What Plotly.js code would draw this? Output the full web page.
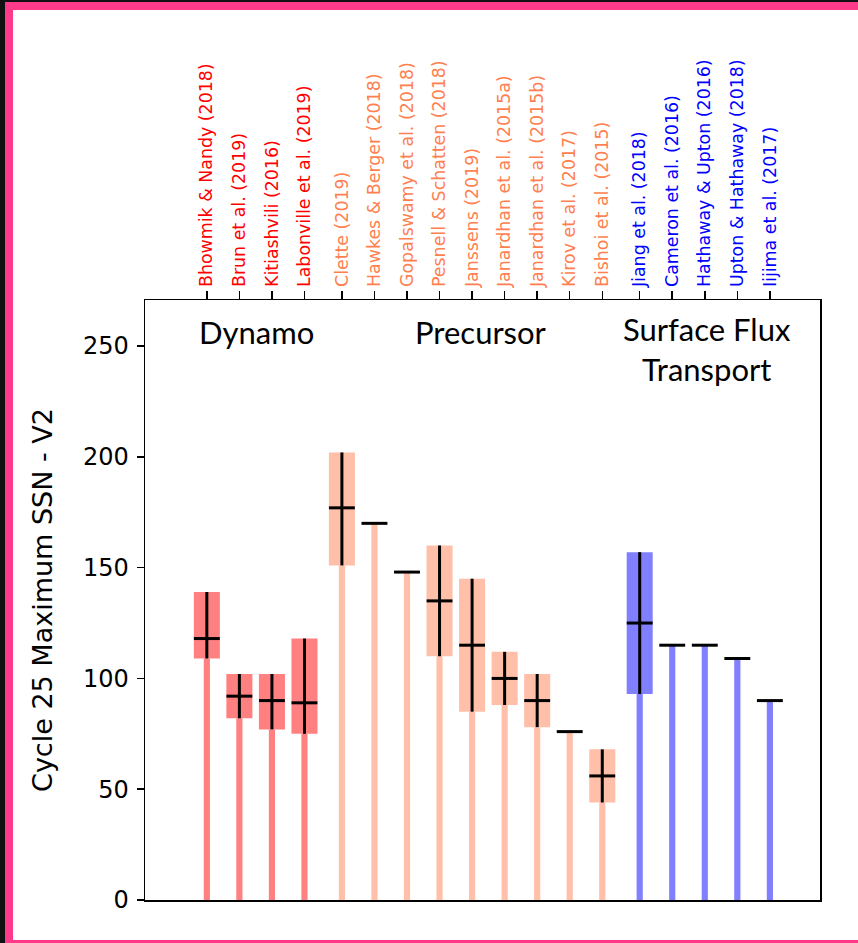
<!DOCTYPE html>
<html>
<head>
<meta charset="utf-8">
<script src="https://cdn.plot.ly/plotly-3.0.1.min.js"></script>
<style>
  html, body { margin: 0; padding: 0; background: #ffffff; width: 858px; height: 943px; overflow: hidden; }
  .fr { position: absolute; }
  #chart { position: absolute; left: 0; top: 0; width: 858px; height: 943px; }
</style>
</head>
<body>
<div class="fr" style="left:0;top:0;width:858px;height:2px;background:#111;"></div>
<div class="fr" style="left:0;top:0;width:5px;height:943px;background:#111;"></div>
<div class="fr" style="left:5px;top:2px;width:853px;height:8px;background:#ff3a8a;"></div>
<div class="fr" style="left:5px;top:2px;width:8px;height:941px;background:#ff3a8a;"></div>
<div class="fr" style="left:5px;top:940px;width:853px;height:3px;background:#ff3a8a;"></div>
<div id="chart"></div>
<script>
// ---- data ----
const models = [
  "Bhowmik & Nandy (2018)", "Brun et al. (2019)", "Kitiashvili (2016)", "Labonville et al. (2019)",
  "Clette (2019)", "Hawkes & Berger (2018)", "Gopalswamy et al. (2018)", "Pesnell & Schatten (2018)",
  "Janssens (2019)", "Janardhan et al. (2015a)", "Janardhan et al. (2015b)", "Kirov et al. (2017)",
  "Bishoi et al. (2015)",
  "Jiang et al. (2018)", "Cameron et al. (2016)", "Hathaway & Upton (2016)", "Upton & Hathaway (2018)",
  "Iijima et al. (2017)"
];
const groups = [
  "Dynamo", "Dynamo", "Dynamo", "Dynamo",
  "Precursor", "Precursor", "Precursor", "Precursor", "Precursor", "Precursor", "Precursor", "Precursor", "Precursor",
  "SFT", "SFT", "SFT", "SFT", "SFT"
];
const predicted = [118, 92, 90, 89, 177, 170, 148, 135, 115, 100, 90, 76, 56, 125, 115, 115, 109, 90];
const lowBound  = [109, 82, 77, 75, 151, 170, 148, 110, 85, 88, 78, 76, 44, 93, 115, 115, 109, 90];
const highBound = [139, 102, 102, 118, 202, 170, 148, 160, 145, 112, 102, 76, 68, 157, 115, 115, 109, 90];
const yTicks = [0, 50, 100, 150, 200, 250];

// ---- styling ----
const groupOrder = ["Dynamo", "Precursor", "SFT"];
const labelColor = { Dynamo: "#ff0000", Precursor: "#ff7f50", SFT: "#0000ff" };
const fillColor  = { Dynamo: "#ff8080", Precursor: "#ffbfa8", SFT: "#8080ff" };
const groupGap = 0.15;

const xs = models.map((m, i) => i + groupOrder.indexOf(groups[i]) * groupGap);
const colors = groups.map(g => fillColor[g]);
const tickText = models.map((m, i) => '<span style="color:' + labelColor[groups[i]] + '">' + m + '</span>');

const stems = {
  type: "bar", x: xs, y: lowBound, base: 0, width: 0.19,
  marker: { color: colors, line: { width: 0 } }, hoverinfo: "skip", showlegend: false
};
const boxes = {
  type: "bar", x: xs, y: highBound.map((h, i) => h - lowBound[i]), base: lowBound, width: 0.8,
  marker: { color: colors, line: { width: 0 } }, hoverinfo: "skip", showlegend: false
};
const centers = {
  type: "scatter", mode: "markers", x: xs, y: predicted,
  marker: { symbol: "line-ew", size: 18.5, color: "black", line: { color: "black", width: 3 } },
  error_y: {
    type: "data", symmetric: false,
    array: highBound.map((h, i) => h - predicted[i]),
    arrayminus: predicted.map((p, i) => p - lowBound[i]),
    color: "black", thickness: 3, width: 0
  },
  hoverinfo: "skip", showlegend: false
};

const gfont = { family: "Lato, 'Open Sans', sans-serif", size: 31, color: "black" };
const layout = {
  width: 858, height: 943,
  margin: { l: 145, r: 38, t: 300, b: 43 },
  paper_bgcolor: "rgba(0,0,0,0)", plot_bgcolor: "white",
  barmode: "overlay",
  showlegend: false,
  font: { family: "DejaVu Sans, sans-serif", color: "black", size: 20 },
  xaxis: {
    side: "top", range: [-1.9, 18.84], tickmode: "array", tickvals: xs, ticktext: tickText,
    tickangle: -90, ticks: "outside", ticklen: 8, tickwidth: 1.5, tickcolor: "black",
    showline: true, linecolor: "black", linewidth: 1.5, mirror: true,
    showgrid: false, zeroline: false, automargin: false,
    tickfont: { family: "DejaVu Sans, sans-serif", size: 17.4 }
  },
  yaxis: {
    range: [0, 270.8], tickmode: "array", tickvals: yTicks, ticktext: yTicks.map(String),
    ticks: "outside", ticklen: 7, tickwidth: 1.5, tickcolor: "black", ticklabelstandoff: 3,
    showline: true, linecolor: "black", linewidth: 1.5, mirror: true,
    showgrid: false, zeroline: false, automargin: false,
    tickfont: { family: "DejaVu Sans, sans-serif", size: 24, color: "black" },
    title: { text: "Cycle 25 Maximum SSN - V2", font: { family: "DejaVu Sans, sans-serif", size: 27 }, standoff: 22 }
  },
  annotations: [
    { text: "Dynamo", x: 1.54, y: 256.3, xref: "x", yref: "y", showarrow: false, xanchor: "center", yanchor: "middle", font: gfont },
    { text: "Precursor", x: 8.42, y: 256.3, xref: "x", yref: "y", showarrow: false, xanchor: "center", yanchor: "middle", font: gfont },
    { text: "Surface Flux<br>Transport", x: 15.37, y: 248.8, xref: "x", yref: "y", showarrow: false, xanchor: "center", yanchor: "middle", align: "center", font: gfont }
  ]
};

Plotly.newPlot("chart", [stems, boxes, centers], layout, { staticPlot: true, displayModeBar: false });
</script>
</body>
</html>
